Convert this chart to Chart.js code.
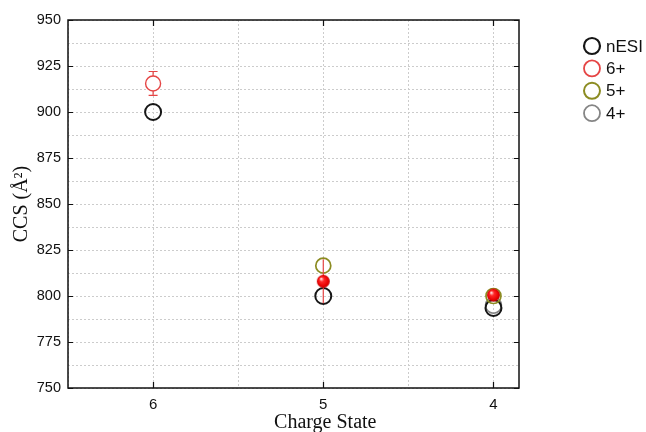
<!DOCTYPE html>
<html>
<head>
<meta charset="utf-8">
<script src="https://cdn.jsdelivr.net/npm/chart.js@4.4.1/dist/chart.umd.min.js"></script>
<style>
  html, body { margin: 0; padding: 0; background: #fff; }
  #wrap { width: 646px; height: 432px; }
</style>
</head>
<body>
<div id="wrap"><canvas id="c" width="646" height="432"></canvas></div>
<script>
// CCS of each ion population, plotted against the observed charge state
const chargeStates = [6, 5, 4];
const nesiCCS = [900, 800, 793.5];
const ion6States = [6, 5, 4];
const ion6CCS = [915.5, 808, 800.5];
const ion6Err = [6.5, 12, 0];
const ion5States = [5, 4];
const ion5CCS = [816.5, 800];
const ion4States = [4];
const ion4CCS = [795];
const seriesLabels = ['nESI', '6+', '5+', '4+'];
const xTickLabels = [6, 5, 4];
const yTickLabels = [750, 775, 800, 825, 850, 875, 900, 925, 950];

const COLORS = { nesi: '#161616', ion6: '#e54545', ion5: '#8c8c22', ion4: '#858585' };

// shaded red ball used for the charge-reduced 6+ points
function makeSphere(r) {
  const size = Math.ceil(2 * r) + 2;
  const c = document.createElement('canvas');
  c.width = c.height = size;
  const g = c.getContext('2d');
  const cx = size / 2, cy = size / 2;
  const grad = g.createRadialGradient(cx - r * 0.35, cy - r * 0.4, r * 0.08, cx, cy, r);
  grad.addColorStop(0, '#ffd6d6');
  grad.addColorStop(0.3, '#ff2a2a');
  grad.addColorStop(0.8, '#e80000');
  grad.addColorStop(1, '#b80000');
  g.fillStyle = grad;
  g.beginPath();
  g.arc(cx, cy, r, 0, Math.PI * 2);
  g.fill();
  return c;
}
const sphere = makeSphere(6.5);

const toPoints = (xs, ys) => xs.map((x, i) => ({ x, y: ys[i] }));

// vertical error bars on the 6+ series
const errorBars = {
  id: 'errorBars',
  beforeDatasetDraw(chart, args) {
    if (args.index !== 1) return;
    const { ctx, scales: { x, y } } = chart;
    ctx.save();
    ctx.strokeStyle = COLORS.ion6;
    ctx.lineWidth = 1.2;
    ion6States.forEach((s, i) => {
      const e = ion6Err[i];
      if (!e) return;
      const px = x.getPixelForValue(s);
      const top = y.getPixelForValue(ion6CCS[i] + e);
      const bot = y.getPixelForValue(ion6CCS[i] - e);
      ctx.beginPath();
      ctx.moveTo(px, top); ctx.lineTo(px, bot);
      if (i === 0) {
        ctx.moveTo(px - 4.5, top); ctx.lineTo(px + 4.5, top);
        ctx.moveTo(px - 4.5, bot); ctx.lineTo(px + 4.5, bot);
      }
      ctx.stroke();
    });
    ctx.restore();
  }
};

// frame, inward tick marks, axis titles and legend
const decorations = {
  id: 'decorations',
  afterDraw(chart) {
    const { ctx, chartArea: a, scales: { x, y } } = chart;
    ctx.save();
    ctx.strokeStyle = '#111';
    ctx.lineWidth = 1.5;
    ctx.strokeRect(a.left, a.top, a.right - a.left, a.bottom - a.top);

    ctx.lineWidth = 1.2;
    ctx.beginPath();
    yTickLabels.forEach(v => {
      const py = Math.round(y.getPixelForValue(v)) + 0.5;
      ctx.moveTo(a.left, py); ctx.lineTo(a.left + 5, py);
      ctx.moveTo(a.right, py); ctx.lineTo(a.right - 5, py);
    });
    xTickLabels.forEach(v => {
      const px = Math.round(x.getPixelForValue(v)) + 0.5;
      ctx.moveTo(px, a.bottom); ctx.lineTo(px, a.bottom - 6);
      ctx.moveTo(px, a.top); ctx.lineTo(px, a.top + 6);
    });
    ctx.stroke();

    // axis titles
    ctx.fillStyle = '#111';
    ctx.font = '20px "Liberation Serif", "Times New Roman", serif';
    ctx.textAlign = 'center';
    ctx.textBaseline = 'middle';
    ctx.fillText('Charge State', x.getPixelForValue(5) + 2, 423);
    ctx.save();
    ctx.translate(22, (a.top + a.bottom) / 2);
    ctx.rotate(-Math.PI / 2);
    ctx.fillText('CCS (Å²)', 0, 0);
    ctx.restore();

    // legend
    const legendColors = [COLORS.nesi, COLORS.ion6, COLORS.ion5, COLORS.ion4];
    const legendWidths = [2.2, 1.8, 2, 1.8];
    ctx.font = '17px "Liberation Sans", Arial, sans-serif';
    ctx.textAlign = 'left';
    seriesLabels.forEach((lab, i) => {
      const cy = 46 + i * 22.4;
      ctx.beginPath();
      ctx.strokeStyle = legendColors[i];
      ctx.lineWidth = legendWidths[i];
      ctx.arc(592, cy, 8, 0, Math.PI * 2);
      ctx.stroke();
      ctx.fillStyle = '#111';
      ctx.fillText(lab, 606, cy + 1);
    });
    ctx.restore();
  }
};

new Chart(document.getElementById('c'), {
  type: 'scatter',
  data: {
    datasets: [
      {
        label: seriesLabels[0],
        data: toPoints(chargeStates, nesiCCS),
        pointStyle: 'circle',
        pointRadius: 8,
        borderColor: COLORS.nesi,
        borderWidth: 2,
        backgroundColor: 'rgba(0,0,0,0)',
        order: 2
      },
      {
        label: seriesLabels[1],
        data: toPoints(ion6States, ion6CCS),
        pointStyle: c => (c.dataIndex === 0 ? 'circle' : sphere),
        pointRadius: c => (c.dataIndex === 0 ? 7.5 : 6.5),
        borderColor: COLORS.ion6,
        borderWidth: 1.4,
        backgroundColor: '#ffffff',
        order: 0
      },
      {
        label: seriesLabels[2],
        data: toPoints(ion5States, ion5CCS),
        pointStyle: 'circle',
        pointRadius: 7.5,
        borderColor: COLORS.ion5,
        borderWidth: 1.7,
        backgroundColor: 'rgba(0,0,0,0)',
        order: 1
      },
      {
        label: seriesLabels[3],
        data: toPoints(ion4States, ion4CCS),
        pointStyle: 'circle',
        pointRadius: 8,
        borderColor: COLORS.ion4,
        borderWidth: 1.5,
        backgroundColor: 'rgba(0,0,0,0)',
        order: 3
      }
    ]
  },
  options: {
    responsive: false,
    animation: false,
    devicePixelRatio: 1,
    layout: { padding: { left: 0, top: 20, right: 127, bottom: 0 } },
    plugins: { legend: { display: false }, tooltip: { enabled: false } },
    scales: {
      x: {
        type: 'linear',
        reverse: true,
        min: 3.85,
        max: 6.5,
        afterFit: s => { s.height = 44; },
        ticks: {
          stepSize: 0.5,
          includeBounds: false,
          padding: 8,
          color: '#111',
          font: { family: '"Liberation Sans", Arial, sans-serif', size: 15 },
          callback: v => (xTickLabels.includes(v) ? String(v) : '')
        },
        grid: { color: '#cccccc', lineWidth: 1, drawTicks: false },
        border: { display: false, dash: [2, 2] }
      },
      y: {
        type: 'linear',
        min: 750,
        max: 950,
        afterFit: s => { s.width = 68; },
        ticks: {
          stepSize: 12.5,
          padding: 7,
          color: '#111',
          font: { family: '"Liberation Sans", Arial, sans-serif', size: 14.5 },
          callback: v => (yTickLabels.includes(v) ? String(v) : '')
        },
        grid: { color: '#cccccc', lineWidth: 1, drawTicks: false },
        border: { display: false, dash: [2, 2] }
      }
    }
  },
  plugins: [errorBars, decorations]
});
</script>
</body>
</html>
